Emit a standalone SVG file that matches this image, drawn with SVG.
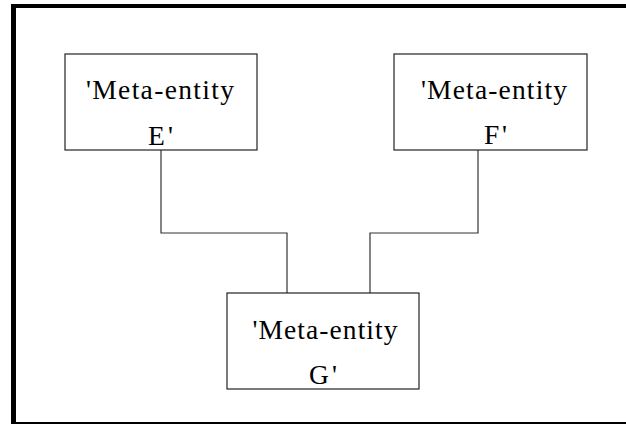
<svg xmlns="http://www.w3.org/2000/svg" width="626" height="424" viewBox="0 0 626 424">
<style>
.box{fill:#fff;stroke:#222;stroke-width:1.2}
.lbl{font-family:"Liberation Serif","Times New Roman",serif;font-size:27.5px;fill:#000}
.conn{fill:none;stroke:#333;stroke-width:1.2}
</style>
<rect x="0" y="0" width="626" height="424" fill="#fff"/>
<g id="frame">
<rect x="11" y="4" width="615" height="4" fill="#000"/>
<rect x="11" y="4" width="5" height="420" fill="#000"/>
<rect x="11" y="422" width="615" height="2" fill="#000"/>
</g>
<g id="connectors">
<polyline class="conn" points="161,150 161,233 287,233 287,293"/>
<polyline class="conn" points="478,150 478,233 370,233 370,293"/>
</g>
<g id="nodeE">
<rect class="box" x="65" y="54" width="192" height="96"/>
<text class="lbl" x="86" y="99" textLength="148" lengthAdjust="spacing">'Meta-entity</text>
<text class="lbl" x="148" y="145" textLength="25" lengthAdjust="spacing">E'</text>
</g>
<g id="nodeF">
<rect class="box" x="394" y="54" width="193" height="96"/>
<text class="lbl" x="421" y="99" textLength="146" lengthAdjust="spacing">'Meta-entity</text>
<text class="lbl" x="484" y="144" textLength="23" lengthAdjust="spacing">F'</text>
</g>
<g id="nodeG">
<rect class="box" x="227" y="293" width="192" height="96"/>
<text class="lbl" x="252.5" y="338.5" textLength="145" lengthAdjust="spacing">'Meta-entity</text>
<text class="lbl" x="309" y="384" textLength="28" lengthAdjust="spacing">G'</text>
</g>
</svg>
